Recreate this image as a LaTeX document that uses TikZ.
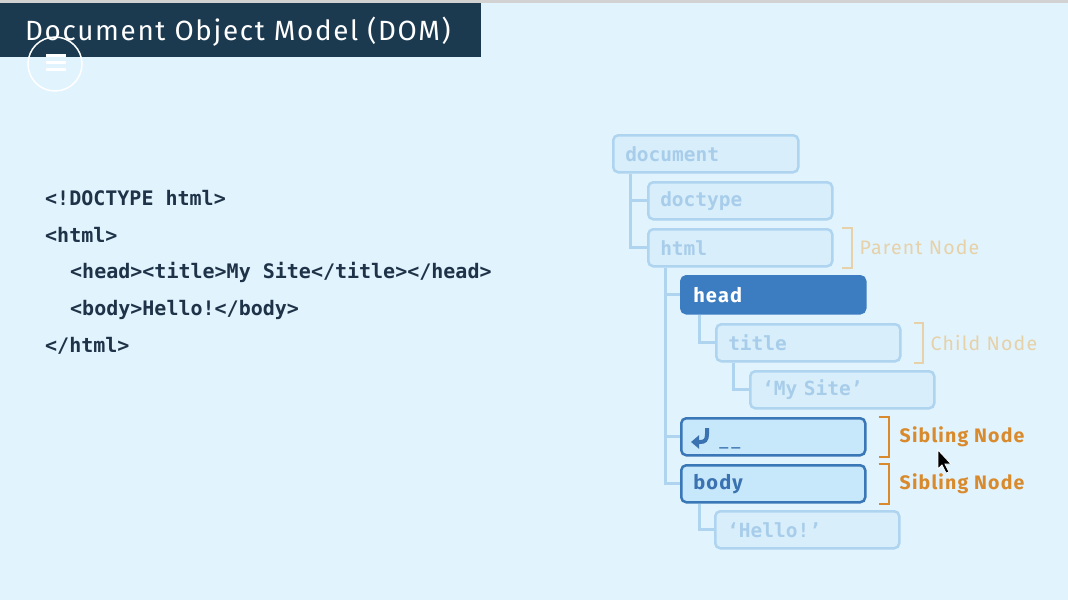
\documentclass[tikz,border=0pt]{standalone}
\usepackage{fontspec}
\setmainfont{Fira Sans}[LetterSpace=6]
\setmonofont{DejaVu Sans Mono}
\usetikzlibrary{positioning,arrows.meta}
\definecolor{pagebg}{HTML}{E1F3FD}
\definecolor{barnavy}{HTML}{1B3A50}
\definecolor{codeink}{HTML}{1E3348}
\definecolor{fadeline}{HTML}{AED4EF}
\definecolor{fadefill}{HTML}{D8EEFB}
\definecolor{fadetext}{HTML}{A8CDEA}
\definecolor{headblue}{HTML}{3C7CC0}
\definecolor{sibline}{HTML}{3A77B7}
\definecolor{sibfill}{HTML}{C7E7FA}
\definecolor{sibtext}{HTML}{3A72B2}
\definecolor{tan}{HTML}{E6D1A8}
\definecolor{amber}{HTML}{D88A2C}
\tikzstyle{treebox} = [rounded corners=5pt, line width=2.5pt, anchor=north west,
text width=160pt, inner xsep=12pt, minimum height=37pt, align=left]
\tikzstyle{faded} = [treebox, draw=fadeline, fill=fadefill, text=fadetext,
font=\ttfamily\bfseries\fontsize{19.5}{22}\selectfont]
\tikzstyle{picked} = [treebox, draw=headblue, fill=headblue, text=white,
font=\bfseries\fontsize{20}{22}\selectfont]
\tikzstyle{sibling} = [treebox, draw=sibline, fill=sibfill, text=sibtext,
font=\bfseries\fontsize{20}{22}\selectfont]
\tikzstyle{branch} = [draw=fadeline, line width=3pt]
\tikzstyle{bracket} = [line width=2pt]
\tikzstyle{code} = [anchor=base west, inner sep=0pt, text=codeink,
font=\ttfamily\bfseries\fontsize{20}{24}\selectfont]

\begin{document}
\begin{tikzpicture}[x=1pt, y=-1pt]

	\fill[pagebg] (0,0) rectangle (1068,600);
	\useasboundingbox (0,0) rectangle (1068,600);
	\fill[gray!35] (0,0) rectangle (1068,3);

	% title bar and menu button
	\fill[barnavy] (0,3) rectangle (481,57);
	\node[anchor=base west, inner sep=0pt, text=white, font=\fontsize{27.8}{30}\selectfont] (heading) at (25,40) {Document Object Model (DOM)};
	\draw[white, line width=1.5pt] (55,64) circle (27);
	\foreach \y in {55,62,69}
		\draw[white, line width=3pt] (46,\y) -- (66,\y);

	% source code
	\node[code] (line1) at (45,205) {<!DOCTYPE html>};
	\node[code] (line2) at (45,242) {<html>};
	\node[code] (line3) at (70,278) {<head><title>My Site</title></head>};
	\node[code] (line4) at (70,315) {<body>Hello!</body>};
	\node[code] (line5) at (45,352) {</html>};

	% tree
	\node[faded, text width=161pt] (document) at (612,134) {document};
	\node[faded] (doctype) at (647,181) {doctype};
	\node[faded] (html) at (647,228) {html};
	\node[picked] (head) at (680,275) {head};
	\node[faded] (title) at (715,323) {title};
	\node[faded] (my site) at (749,370) {‘My Site’};
	\node[sibling] (newline) at (680,417) {\hspace*{26pt}\raisebox{-4pt}[0pt][0pt]{\ttfamily\fontsize{15}{18}\selectfont\_\kern3pt\_}\strut};
	\node[sibling] (body) at (680,464) {body};
	\node[faded] (hello) at (714,510) {‘Hello!’};

	\draw[branch] ([xshift=18pt]document.south west) |- (doctype.west);
	\draw[branch] ([xshift=18pt]document.south west) |- (html.west);
	\draw[branch] ([xshift=18pt]html.south west) |- (head.west);
	\draw[branch] ([xshift=18pt]html.south west) |- (newline.west);
	\draw[branch] ([xshift=18pt]html.south west) |- (body.west);
	\draw[branch] ([xshift=19pt]head.south west) |- (title.west);
	\draw[branch] ([xshift=18pt]title.south west) |- (my site.west);
	\draw[branch] ([xshift=19pt]body.south west) |- (hello.west);

	% return icon in the whitespace node
	\begin{scope}[shift={(newline.north west)}]
		\draw[sibtext, line width=4pt, -{Triangle[length=8pt, width=13pt]}]
			(27,11) -- (27,17) .. controls (27,23) and (25,25) .. (20,25) -- (11,25);
	\end{scope}

	% labels
	\draw[bracket, tan] ([xshift=8pt]html.north east) -| ([xshift=18pt]html.south east) -- ([xshift=8pt]html.south east);
	\node[right=26pt of html.east, inner sep=0pt, text=tan, font=\fontsize{19.5}{22}\selectfont] (parent) {Parent Node};
	\draw[bracket, tan] ([xshift=12pt]title.north east) -| ([xshift=21pt]title.south east) -- ([xshift=12pt]title.south east);
	\node[right=29pt of title.east, inner sep=0pt, text=tan, font=\fontsize{19.5}{22}\selectfont] (child) {Child Node};
	\draw[bracket, amber] ([xshift=12pt]newline.north east) -| ([xshift=22pt]newline.south east) -- ([xshift=12pt]newline.south east);
	\node[right=33pt of newline.east, inner sep=0pt, text=amber, font=\bfseries\fontsize{19.5}{22}\selectfont] (sibling a) {Sibling Node};
	\draw[bracket, amber] ([xshift=12pt]body.north east) -| ([xshift=22pt]body.south east) -- ([xshift=12pt]body.south east);
	\node[right=33pt of body.east, inner sep=0pt, text=amber, font=\bfseries\fontsize{19.5}{22}\selectfont] (sibling b) {Sibling Node};

	% pointer
	\filldraw[fill=black, draw=white, line width=0.8pt] (938,450) -- (938,469) -- (942,465) -- (946,473) -- (949,472) -- (945,464) -- (951,464) -- cycle;

\end{tikzpicture}
\end{document}
